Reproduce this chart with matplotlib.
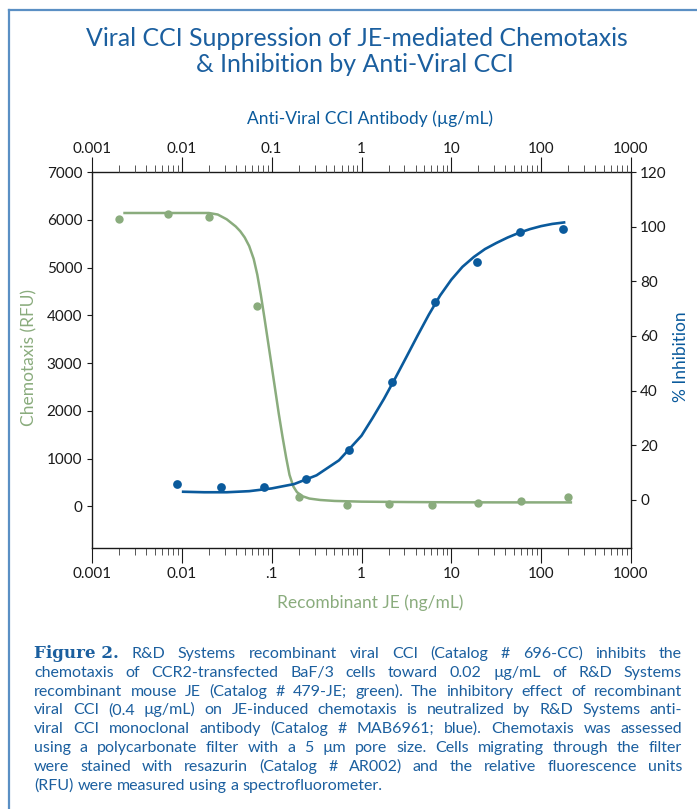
import numpy as np
import matplotlib
matplotlib.use("Agg")
import matplotlib.pyplot as plt
from matplotlib import font_manager
from matplotlib.lines import Line2D
from matplotlib.ticker import LogLocator, NullFormatter, FixedLocator, FixedFormatter

# ---------------- data ----------------
# Recombinant JE (ng/mL) -> chemotaxis (RFU), green, bottom/left axes
je_conc = [0.002, 0.007, 0.02, 0.069, 0.2, 0.69, 2.0, 6.1, 20, 60, 200]
je_rfu = [6010, 6120, 6060, 4200, 200, 30, 50, 30, 70, 105, 200]
# fitted curve
je_fit_conc = [0.00223, 0.0200, 0.0251, 0.0316, 0.0398, 0.0447, 0.0501, 0.0562,
               0.0631, 0.0692, 0.0759, 0.0832, 0.100, 0.120, 0.132, 0.145,
               0.158, 0.174, 0.191, 0.219, 0.263, 0.347, 0.501, 1.0, 3.16,
               10.0, 31.6, 221]
je_fit_rfu = [6142, 6142, 6110, 6010, 5860, 5760, 5630, 5450,
              5180, 4850, 4420, 3940, 2940, 1940, 1460, 1020,
              660, 420, 300, 215, 165, 135, 115, 100, 92,
              87, 85, 84]

# Anti-viral CCI antibody (ug/mL) -> % inhibition, blue, top/right axes
ab_conc = [0.0088, 0.0272, 0.0824, 0.242, 0.73, 2.2, 6.6, 19.4, 58, 175]
ab_inhib = [5.7, 4.9, 4.6, 7.6, 18.3, 43.3, 72.4, 87.0, 98.1, 99.0]
ab_fit_conc = [0.0100, 0.0178, 0.0316, 0.0562, 0.100, 0.178, 0.316, 0.562,
               1.00, 1.33, 1.78, 2.37, 3.16, 4.22, 5.62, 7.50, 10.0, 13.3,
               17.8, 23.7, 31.6, 42.2, 56.2, 75.0, 100, 133, 186]
ab_fit_inhib = [3.0, 2.8, 2.8, 3.2, 4.2, 5.8, 9.0, 14.5,
                23.5, 30.0, 37.0, 44.5, 52.3, 60.2, 67.8, 74.8, 80.6, 85.3,
                88.9, 91.8, 94.0, 96.0, 97.7, 99.1, 100.2, 101.0, 101.6]

x_ticks = [0.001, 0.01, 0.1, 1, 10, 100, 1000]
top_tick_labels = ["0.001", "0.01", "0.1", "1", "10", "100", "1000"]
bottom_tick_labels = ["0.001", "0.01", ".1", "1", "10", "100", "1000"]
left_ticks = [0, 1000, 2000, 3000, 4000, 5000, 6000, 7000]
right_ticks = [0, 20, 40, 60, 80, 100, 120]

title_lines = ["Viral CCI Suppression of JE-mediated Chemotaxis",
               "& Inhibition by Anti-Viral CCI"]
top_xlabel = "Anti-Viral CCI Antibody (µg/mL)"
bottom_xlabel = "Recombinant JE (ng/mL)"
left_ylabel = "Chemotaxis (RFU)"
right_ylabel = "% Inhibition"

caption_head = "Figure 2."
caption_lines = [
    "R&D Systems recombinant viral CCI (Catalog # 696-CC) inhibits the",
    "chemotaxis of CCR2-transfected BaF/3 cells toward 0.02 µg/mL of R&D Systems",
    "recombinant mouse JE (Catalog # 479-JE; green). The inhibitory effect of recombinant",
    "viral CCI (0.4 µg/mL) on JE-induced chemotaxis is neutralized by R&D Systems anti-",
    "viral CCI monoclonal antibody (Catalog # MAB6961; blue). Chemotaxis was assessed",
    "using a polycarbonate filter with a 5 µm pore size. Cells migrating through the filter",
    "were stained with resazurin (Catalog # AR002) and the relative fluorescence units",
    "(RFU) were measured using a spectrofluorometer.",
]

# ---------------- style ----------------
GREEN = "#8aac7d"
BLUE = "#0a5a9c"
TEXT_BLUE = "#1b5f9f"
BORDER = "#5a8fc4"
BLACK = "#1a1a1a"

avail = {f.name for f in font_manager.fontManager.ttflist}
MAIN = "Lato" if "Lato" in avail else "DejaVu Sans"
NARROW = "Liberation Sans Narrow" if "Liberation Sans Narrow" in avail else MAIN
SERIF = "DejaVu Serif"
plt.rcParams["font.family"] = [MAIN, "DejaVu Sans"]

W, H = 697, 809
fig = plt.figure(figsize=(W / 100, H / 100), dpi=100)
renderer = fig.canvas.get_renderer()


def fx(px):
    return px / W


def fy(py):
    return 1 - py / H


def fit_width(t, target_px):
    w = t.get_window_extent(renderer).width
    t.set_fontsize(t.get_fontsize() * target_px / w)


# border lines
fig.add_artist(Line2D([fx(8.5), fx(8.5)], [fy(9.5), 0], color=BORDER, lw=1.6))
fig.add_artist(Line2D([fx(8.5), 1], [fy(9.5), fy(9.5)], color=BORDER, lw=1.6))

# title
t1 = fig.text(fx(357), fy(38), title_lines[0], ha="center", va="center",
              color=TEXT_BLUE, fontsize=17)
fit_width(t1, 544)
t2 = fig.text(fx(355), fy(64), title_lines[1], ha="center", va="center",
              color=TEXT_BLUE, fontsize=t1.get_fontsize())

# axes
L, R, T, B = 92, 631, 172, 548
rect = [fx(L), fy(B), (R - L) / W, (B - T) / H]
ax = fig.add_axes(rect)
ax.set_xscale("log")
ax.set_xlim(1e-3, 1e3)
ax.set_ylim(-870, 7000)
ax2 = fig.add_axes(rect, facecolor="none")
ax2.set_xscale("log")
ax2.set_xlim(1e-3, 1e3)
ax2.set_ylim(-17.6, 120)
for s in ax2.spines.values():
    s.set_visible(False)
for s in ax.spines.values():
    s.set_linewidth(1.0)
    s.set_color(BLACK)

# green series
ax.plot(je_fit_conc, je_fit_rfu, color=GREEN, lw=1.8, solid_capstyle="butt",
        solid_joinstyle="round", zorder=2)
ax.plot(je_conc, je_rfu, "o", color=GREEN, ms=6, mec="none", zorder=3)
# blue series
ax2.plot(ab_fit_conc, ab_fit_inhib, color=BLUE, lw=1.9, solid_capstyle="butt",
         solid_joinstyle="round", zorder=2)
ax2.plot(ab_conc, ab_inhib, "o", color=BLUE, ms=6.3, mec="none", zorder=3)

# ticks
for a, labels in ((ax, bottom_tick_labels), (ax2, top_tick_labels)):
    a.xaxis.set_major_locator(FixedLocator(x_ticks))
    a.xaxis.set_major_formatter(FixedFormatter(labels))
    a.xaxis.set_minor_locator(LogLocator(base=10, subs=np.arange(2, 10), numticks=20))
    a.xaxis.set_minor_formatter(NullFormatter())

ax.tick_params(axis="x", which="major", direction="out", length=10.8, width=0.8,
               labelsize=11, pad=3, colors=BLACK)
ax.tick_params(axis="x", which="minor", direction="out", length=5, width=0.7, colors="#555555")
ax2.xaxis.tick_top()
ax2.tick_params(axis="x", which="major", direction="out", length=10.8, width=0.8,
                labelsize=11, pad=1, colors=BLACK, top=True, bottom=False)
ax2.tick_params(axis="x", which="minor", direction="out", length=5, width=0.7,
                colors="#555555", top=True, bottom=False)

ax.set_yticks(left_ticks)
ax.set_yticklabels([str(v) for v in left_ticks])
ax.tick_params(axis="y", which="major", direction="out", length=3.6, width=0.8,
               labelsize=11, pad=3.5, colors=BLACK, right=False)
ax2.yaxis.tick_right()
ax2.set_yticks(right_ticks)
ax2.set_yticklabels([str(v) for v in right_ticks])
ax2.tick_params(axis="y", which="major", direction="out", length=3.6, width=0.8,
                labelsize=11, pad=3, colors=BLACK, left=False, right=True)

# axis labels
tl = fig.text(fx(370), fy(119), top_xlabel, ha="center", va="center", color=BLUE, fontsize=12)
fit_width(tl, 245)
bl = fig.text(fx(370), fy(603), bottom_xlabel, ha="center", va="center", color=GREEN,
              fontsize=tl.get_fontsize())
fig.text(fx(29), fy(357), left_ylabel, ha="center", va="center", rotation=90,
         color=GREEN, fontsize=tl.get_fontsize())
fig.text(fx(681), fy(357), right_ylabel, ha="center", va="center", rotation=90,
         color=BLUE, fontsize=tl.get_fontsize())

# caption, justified
X0, X1 = 34, 682
base_fs = 10.5
MIN_GAP = 0.3
line_tokens = []
for i, line in enumerate(caption_lines):
    toks = [(w, "n") for w in line.split(" ")]
    if i == 0:
        toks = [(caption_head, "h")] + toks
    line_tokens.append(toks)


def make_text(word, kind, fs):
    if kind == "h":
        return fig.text(0, 0, word, ha="left", va="baseline", color=TEXT_BLUE,
                        fontsize=fs * 1.05, family=SERIF, fontweight="bold")
    return fig.text(0, 0, word, ha="left", va="baseline", color=TEXT_BLUE,
                    fontsize=fs, family=[NARROW, "DejaVu Sans"])


def measure(s, fs):
    t = fig.text(0, 0, s, fontsize=fs, family=[NARROW, "DejaVu Sans"])
    w = t.get_window_extent(renderer).width
    t.remove()
    return w


space_b = measure("x x", base_fs) - measure("xx", base_fs)
scale = 10.0
for i, toks in enumerate(line_tokens[:-1]):
    tmp = [make_text(w, k, base_fs) for w, k in toks]
    wsum = sum(t.get_window_extent(renderer).width for t in tmp)
    for t in tmp:
        t.remove()
    scale = min(scale, (X1 - X0) / (wsum + MIN_GAP * space_b * (len(toks) - 1)))
fs = min(11.5, base_fs * scale)
space = measure("x x", fs) - measure("xx", fs)

y0, dy = 658, 18.8
for i, toks in enumerate(line_tokens):
    texts = [make_text(w, k, fs) for w, k in toks]
    widths = [t.get_window_extent(renderer).width for t in texts]
    yb = fy(y0 + i * dy)
    if i < len(line_tokens) - 1:
        gap = (X1 - X0 - sum(widths)) / (len(texts) - 1)
    else:
        gap = space
    x = X0
    for t, w in zip(texts, widths):
        t.set_position((fx(x), yb))
        x += w + gap

fig.savefig("out.png", dpi=100)
